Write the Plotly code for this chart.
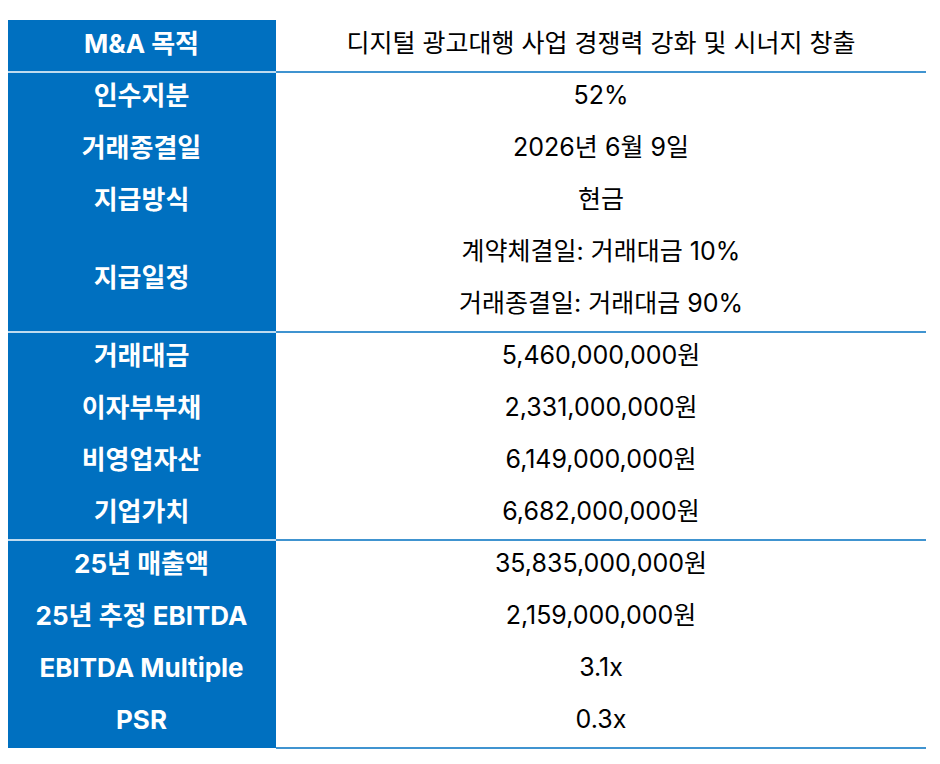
import plotly.graph_objects as go

labels = ["M&A 목적", "인수지분", "거래종결일", "지급방식", "지급일정",
          "거래대금", "이자부부채", "비영업자산", "기업가치",
          "25년 매출액", "25년 추정 EBITDA", "EBITDA Multiple", "PSR"]
values = [["디지털 광고대행 사업 경쟁력 강화 및 시너지 창출"], ["52%"], ["2026년 6월 9일"], ["현금"],
          ["계약체결일: 거래대금 10%", "거래종결일: 거래대금 90%"],
          ["5,460,000,000원"], ["2,331,000,000원"], ["6,149,000,000원"], ["6,682,000,000원"],
          ["35,835,000,000원"], ["2,159,000,000원"], ["3.1x"], ["0.3x"]]
group_ends = [0, 4, 8, 12]  # label index ending each group

TOP, RH, X0, XM, X1 = 20, 52, 7, 276, 926
BLUE = "#0070C0"
FONT = "Inter, Noto Sans CJK KR"

fig = go.Figure()
shapes = []
lx, ly, vx, vy, vt = [], [], [], [], []
row = 0
bounds = []
for i, (lab, vals) in enumerate(zip(labels, values)):
    n = len(vals)
    y0 = TOP + row * RH
    y1 = y0 + n * RH
    lx.append((X0 + XM) / 2); ly.append((y0 + y1) / 2)
    for k, v in enumerate(vals):
        vx.append((XM + X1) / 2); vy.append(y0 + RH * (k + 0.5)); vt.append(v)
    row += n
    if i in group_ends:
        bounds.append(y1)

total = TOP + row * RH
shapes.append(dict(type="rect", x0=X0, x1=XM, y0=TOP, y1=total, fillcolor=BLUE, line_width=0, layer="below"))
for b in bounds:
    if b < total:
        shapes.append(dict(type="line", x0=X0, x1=XM, y0=b, y1=b, line=dict(color="white", width=1.5)))
    shapes.append(dict(type="line", x0=XM, x1=X1, y0=b, y1=b, line=dict(color=BLUE, width=1.5)))

fig.add_trace(go.Scatter(x=lx, y=ly, text=labels, mode="text", hoverinfo="skip",
                         textfont=dict(family=FONT, size=26, color="white", weight="bold")))
fig.add_trace(go.Scatter(x=vx, y=vy, text=vt, mode="text", hoverinfo="skip",
                         textfont=dict(family=FONT, size=25, color="black")))

fig.update_layout(width=940, height=764, margin=dict(l=0, r=0, t=0, b=0),
                  paper_bgcolor="white", plot_bgcolor="white", showlegend=False, shapes=shapes,
                  xaxis=dict(range=[8, 948], visible=False, fixedrange=True),
                  yaxis=dict(range=[772, 8], visible=False, fixedrange=True))
fig.write_html("out.html", config={"displayModeBar": False})
